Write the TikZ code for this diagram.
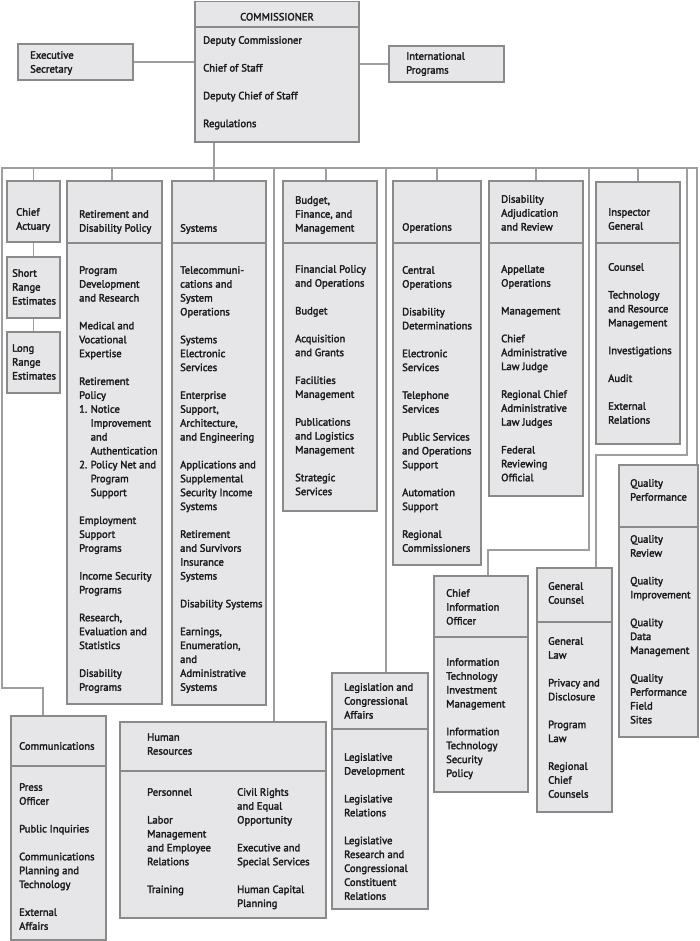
\documentclass[tikz,border=0pt]{standalone}
\usepackage{fontspec}
\newfontfamily\orgfont{PT Sans}[FakeBold=2.4]
\definecolor{boxfill}{HTML}{E6E6E8}
\definecolor{boxdraw}{HTML}{8A8A8A}
\definecolor{linec}{HTML}{9E9E9E}
\definecolor{txtc}{HTML}{1C1A1B}
\tikzset{
  orgbox/.style={draw=boxdraw, fill=boxfill, line width=1.3pt, inner sep=0pt, outer sep=0pt, rectangle},
  divline/.style={draw=boxdraw, line width=1.3pt},
  conn/.style={draw=linec, line width=1.3pt},
  txt/.style={font=\orgfont\fontsize{10.6}{13.9}\selectfont, text=txtc, align=left, inner sep=0pt, anchor=north west}
}
\newcommand\obox[5]{\node[orgbox, anchor=north west, minimum width={(#4-#2)*1pt}, minimum height={(#5-#3)*1pt}] (#1) at (#2,#3) {};}
\newcommand\odiv[2]{\draw[divline] (#1.west |- 0,#2) -- (#1.east |- 0,#2);}
\newcommand\tx[4]{\node[txt] (#1) at (#2,#3-10.2) {\strut#4};}
\newcommand\pp{\\[13.9pt]}
\newcommand\ind{\hspace*{11.5pt}}
\begin{document}
\begin{tikzpicture}[x=1pt,y=-1pt]
\useasboundingbox (0,0) rectangle (700,941);
% ---------- coordinates for connectors
\coordinate (busL) at (2,168);
\coordinate (busR) at (697,168);
\coordinate (busC) at (214,168);
\coordinate (cA) at (2,688);
\coordinate (cB) at (43,688);
\coordinate (cioA) at (589,550);
\coordinate (cioB) at (488,550);
\coordinate (gcA) at (687,455);
\coordinate (gcB) at (596,455);
% ---------- boxes (first pass, for node names)
\obox{comm}{195}{1.5}{359}{142}
\obox{es}{18}{44}{133}{80}
\obox{ip}{389}{46}{504}{82}
\obox{ca}{7}{181}{60}{242}
\obox{sre}{7}{257}{60}{318}
\obox{lre}{7}{332}{60}{393}
\obox{ret}{67}{181}{162}{704}
\obox{sys}{172}{181}{266}{705}
\obox{bud}{283}{181}{377}{511}
\obox{ops}{393}{181}{481}{565}
\obox{dar}{489}{181}{583}{496}
\obox{ig}{596}{182}{680}{444}
\obox{qp}{619}{465}{698}{737}
\obox{gc}{537}{568}{612}{812}
\obox{cio}{434}{576}{528}{792}
\obox{leg}{332}{673}{428}{909}
\obox{hr}{120}{722}{326}{918}
\obox{comms}{11}{716}{106}{940}
% ---------- connectors
\draw[conn] (qp.north -| busR) -- (busR) -- (busL) -- (cA) -- (cB) -- (comms.north -| cB);
\draw[conn] (comm.south -| busC) -- (busC) -- (sys.north -| busC);
\draw[conn] (es.east) -- (es.east -| comm.west);
\draw[conn] (ip.west) -- (ip.west -| comm.east);
\draw[conn] (busL -| ca.north) -- (ca.north);
\draw[conn] (ca.south) -- (sre.north);
\draw[conn] (sre.south) -- (lre.north);
\draw[conn] (busL -| 112,0) -- (ret.north -| 112,0);
\draw[conn] (busL -| 326,0) -- (bud.north -| 326,0);
\draw[conn] (busL -| ops.north) -- (ops.north);
\draw[conn] (busL -| dar.north) -- (dar.north);
\draw[conn] (busL -| ig.north) -- (ig.north);
\draw[conn] (busL -| 274,0) -- (hr.north -| 274,0);
\draw[conn] (busL -| 386,0) -- (leg.north -| 386,0);
\draw[conn] (busL -| cioA) -- (cioA) -- (cioB) -- (cio.north -| cioB);
\draw[conn] (busL -| gcA) -- (gcA) -- (gcB) -- (gc.north -| gcB);
% redraw boxes over connector ends
\obox{comm}{195}{1.5}{359}{142}
\obox{ca}{7}{181}{60}{242}
\obox{sre}{7}{257}{60}{318}
\obox{lre}{7}{332}{60}{393}
\obox{ret}{67}{181}{162}{704}
\obox{sys}{172}{181}{266}{705}
\obox{bud}{283}{181}{377}{511}
\obox{ops}{393}{181}{481}{565}
\obox{dar}{489}{181}{583}{496}
\obox{ig}{596}{182}{680}{444}
\obox{qp}{619}{465}{698}{737}
\obox{gc}{537}{568}{612}{812}
\obox{cio}{434}{576}{528}{792}
\obox{leg}{332}{673}{428}{909}
\obox{hr}{120}{722}{326}{918}
\obox{comms}{11}{716}{106}{940}
\obox{es}{18}{44}{133}{80}
\obox{ip}{389}{46}{504}{82}
% ---------- dividers
\odiv{comm}{27}
\odiv{ret}{243}
\odiv{sys}{243}
\odiv{bud}{243}
\odiv{ops}{243}
\odiv{dar}{243}
\odiv{ig}{243}
\odiv{qp}{527}
\odiv{gc}{622}
\odiv{cio}{637}
\odiv{leg}{729}
\odiv{hr}{771}
\odiv{comms}{766}
% ---------- texts
\node[txt, anchor=base, align=center] (commh) at (277,20.5) {COMMISSIONER};
\tx{commi}{203}{44}{Deputy Commissioner\pp Chief of Staff\pp Deputy Chief of Staff\pp Regulations}
\tx{est}{30}{59}{Executive\\Secretary}
\tx{ipt}{406}{60}{International\\Programs}
\tx{cat}{16}{216}{Chief\\Actuary}
\tx{sret}{12}{277}{Short\\Range\\Estimates}
\tx{lret}{12}{352}{Long\\Range\\Estimates}
\tx{reth}{79}{218}{Retirement and\\Disability Policy}
\tx{reti}{79}{274}{Program\\Development\\and Research\pp Medical and\\Vocational\\Expertise\pp Retirement\\Policy\\\makebox[11.5pt][l]{1.}Notice\\\ind Improvement\\\ind and\\\ind Authentication\\\makebox[11.5pt][l]{2.}Policy Net and\\\ind Program\\\ind Support\pp Employment\\Support\\Programs\pp Income Security\\Programs\pp Research,\\Evaluation and\\Statistics\pp Disability\\Programs}
\tx{sysh}{180}{232}{Systems}
\tx{sysi}{180}{274}{Telecommuni-\\cations and\\System\\Operations\pp Systems\\Electronic\\Services\pp Enterprise\\Support,\\Architecture,\\and Engineering\pp Applications and\\Supplemental\\Security Income\\Systems\pp Retirement\\and Survivors\\Insurance\\Systems\pp Disability Systems\pp Earnings,\\Enumeration,\\and\\Administrative\\Systems}
\tx{budh}{295}{204}{Budget,\\Finance, and\\Management}
\tx{budi}{295}{273}{Financial Policy\\and Operations\pp Budget\pp Acquisition\\and Grants\pp Facilities\\Management\pp Publications\\and Logistics\\Management\pp Strategic\\Services}
\tx{opsh}{402}{231}{Operations}
\tx{opsi}{402}{274}{Central\\Operations\pp Disability\\Determinations\pp Electronic\\Services\pp Telephone\\Services\pp Public Services\\and Operations\\Support\pp Automation\\Support\pp Regional\\Commissioners}
\tx{darh}{501}{203}{Disability\\Adjudication\\and Review}
\tx{dari}{501}{273}{Appellate\\Operations\pp Management\pp Chief\\Administrative\\Law Judge\pp Regional Chief\\Administrative\\Law Judges\pp Federal\\Reviewing\\Official}
\tx{igh}{608}{216}{Inspector\\General}
\tx{igi}{608}{271}{Counsel\pp Technology\\and Resource\\Management\pp Investigations\pp Audit\pp External\\Relations}
\tx{qph}{630}{487}{Quality\\Performance}
\tx{qpi}{630}{543}{Quality\\Review\pp Quality\\Improvement\pp Quality\\Data\\Management\pp Quality\\Performance\\Field\\Sites}
\tx{gch}{548}{590}{General\\Counsel}
\tx{gci}{548}{645}{General\\Law\pp Privacy and\\Disclosure\pp Program\\Law\pp Regional\\Chief\\Counsels}
\tx{cioh}{446}{597}{Chief\\Information\\Officer}
\tx{cioi}{446}{666}{Information\\Technology\\Investment\\Management\pp Information\\Technology\\Security\\Policy}
\tx{legh}{344}{691}{Legislation and\\Congressional\\Affairs}
\tx{legi}{344}{761}{Legislative\\Development\pp Legislative\\Relations\pp Legislative\\Research and\\Congressional\\Constituent\\Relations}
\tx{hrh}{147}{741}{Human\\Resources}
\tx{hril}{147}{796}{Personnel\pp Labor\\Management\\and Employee\\Relations\pp Training}
\tx{hrir}{237}{796}{Civil Rights\\and Equal\\Opportunity\pp Executive and\\Special Services\pp Human Capital\\Planning}
\tx{comh}{19}{750}{Communications}
\tx{comi}{19}{791}{Press\\Officer\pp Public Inquiries\pp Communications\\Planning and\\Technology\pp External\\Affairs}
\end{tikzpicture}
\end{document}
